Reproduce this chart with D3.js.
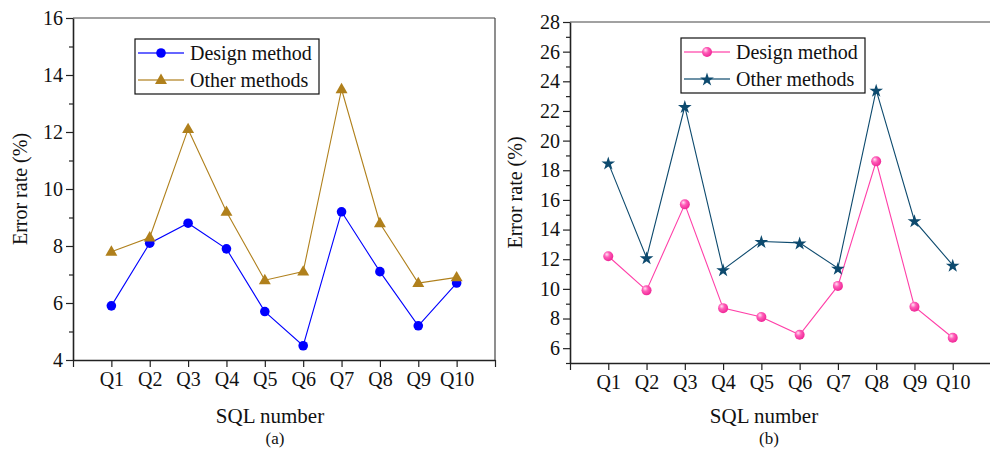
<!DOCTYPE html>
<html>
<head>
<meta charset="utf-8">
<script src="https://cdn.jsdelivr.net/npm/d3@7"></script>
<style>
  body { margin: 0; background: #fff; }
  svg { display: block; }
</style>
</head>
<body>
<div id="chart"></div>
<script>
// SQL query labels (x positions 1..10, axis runs 0..11)
const queries = ["Q1", "Q2", "Q3", "Q4", "Q5", "Q6", "Q7", "Q8", "Q9", "Q10"];

// panel (a)
const designA = [5.9, 8.1, 8.8, 7.9, 5.7, 4.5, 9.2, 7.1, 5.2, 6.7];
const otherA  = [7.8, 8.3, 12.1, 9.2, 6.8, 7.1, 13.5, 8.8, 6.7, 6.9];
const yTicksA = [4, 6, 8, 10, 12, 14, 16];

// panel (b)
const designB = [12.2, 9.9, 15.7, 8.7, 8.1, 6.9, 10.2, 18.6, 8.8, 6.7];
const otherB  = [18.5, 12.1, 22.3, 11.3, 13.2, 13.1, 11.4, 23.4, 14.6, 11.6];
const yTicksB = [6, 8, 10, 12, 14, 16, 18, 20, 22, 24, 26, 28];

const seriesNames = ["Design method", "Other methods"];

const width = 990, height = 450;
const serif = "Liberation Serif";

const svg = d3.select("#chart").append("svg")
    .attr("width", width)
    .attr("height", height);

function textStyle(selection, size) {
    selection
        .style("font-family", serif)
        .style("font-size", size + "px")
        .style("fill", "#111");
}

// sphere gradient for pink markers
const defs = svg.append("defs");
const grad = defs.append("radialGradient")
    .attr("id", "pinkBall")
    .attr("cx", "40%").attr("cy", "38%").attr("r", "60%")
    .attr("fx", "35%").attr("fy", "30%");
grad.append("stop").attr("offset", "0%").attr("stop-color", "#ffe6f4");
grad.append("stop").attr("offset", "45%").attr("stop-color", "#ff5cb8");
grad.append("stop").attr("offset", "100%").attr("stop-color", "#f02a98");

function markerShape(g, kind, color) {
    if (kind === "circle") {
        g.append("circle").attr("r", 4.8).attr("fill", color);
    } else if (kind === "ball") {
        g.append("circle").attr("r", 5).attr("fill", "url(#pinkBall)");
    } else if (kind === "triangle") {
        g.append("path")
            .attr("d", d3.symbol(d3.symbolTriangle, 62)())
            .attr("transform", "translate(0,0.5)")
            .attr("fill", color);
    } else if (kind === "star") {
        g.append("path")
            .attr("d", d3.symbol(d3.symbolStar, 58)())
            .attr("transform", "translate(0,0.8)")
            .attr("fill", color);
    }
}

function drawPanel(cfg) {
    const g = svg.append("g");

    const x = d3.scaleLinear().domain([0, 11]).range([cfg.left, cfg.right]);
    const y = d3.scaleLinear().domain(cfg.yDomain).range([cfg.bottom, cfg.top]);

    // top and right frame
    g.append("line")
        .attr("x1", cfg.left).attr("x2", cfg.right)
        .attr("y1", cfg.top).attr("y2", cfg.top)
        .attr("stroke", "#444").attr("stroke-width", 1.2);
    g.append("line")
        .attr("x1", cfg.right).attr("x2", cfg.right)
        .attr("y1", cfg.top).attr("y2", cfg.bottom)
        .attr("stroke", "#444").attr("stroke-width", 1.2);

    // minor y ticks
    const minor = d3.range(Math.ceil(cfg.yDomain[0]), cfg.yDomain[1] + 1)
        .filter(v => !cfg.yTicks.includes(v));
    g.append("g")
        .attr("transform", `translate(${cfg.left},0)`)
        .call(d3.axisLeft(y).tickValues(minor).tickSize(4).tickFormat(""))
        .call(a => a.select(".domain").remove())
        .call(a => a.selectAll("line").attr("stroke", "#222").attr("stroke-width", 1.2));

    // y axis
    g.append("g")
        .attr("transform", `translate(${cfg.left},0)`)
        .call(d3.axisLeft(y).tickValues(cfg.yTicks).tickSize(7).tickPadding(3).tickSizeOuter(0))
        .call(a => a.select(".domain").attr("stroke", "#222").attr("stroke-width", 1.6))
        .call(a => a.selectAll("line").attr("stroke", "#222").attr("stroke-width", 1.2))
        .call(a => a.selectAll("text").call(textStyle, 20));

    // x axis
    g.append("g")
        .attr("transform", `translate(0,${cfg.bottom})`)
        .call(d3.axisBottom(x).tickValues(d3.range(0, 12)).tickSize(7).tickPadding(5).tickSizeOuter(0)
            .tickFormat(d => (d >= 1 && d <= 10) ? queries[d - 1] : ""))
        .call(a => a.select(".domain").attr("stroke", "#222").attr("stroke-width", 1.6))
        .call(a => a.selectAll("line").attr("stroke", "#222").attr("stroke-width", 1.2))
        .call(a => a.selectAll("text").call(textStyle, 20));

    // axis titles
    g.append("text")
        .attr("transform", `translate(${cfg.yLabelX},${(cfg.top + cfg.bottom) / 2}) rotate(-90)`)
        .attr("text-anchor", "middle")
        .call(textStyle, 20)
        .text("Error rate (%)");

    g.append("text")
        .attr("x", cfg.xLabelX).attr("y", 423)
        .attr("text-anchor", "middle")
        .call(textStyle, 21)
        .text("SQL number");

    g.append("text")
        .attr("x", cfg.xLabelX + 5).attr("y", 444)
        .attr("text-anchor", "middle")
        .call(textStyle, 17)
        .text(cfg.caption);

    // series
    const line = d3.line().x((d, i) => x(i + 1)).y(d => y(d));
    cfg.series.forEach(s => {
        g.append("path")
            .datum(s.values)
            .attr("fill", "none")
            .attr("stroke", s.color)
            .attr("stroke-width", 1.1)
            .attr("d", line);
        g.selectAll(null)
            .data(s.values)
            .enter()
            .append("g")
            .attr("transform", (d, i) => `translate(${x(i + 1)},${y(d)})`)
            .each(function() { markerShape(d3.select(this), s.marker, s.color); });
    });

    // legend
    const lg = g.append("g").attr("transform", `translate(${cfg.legend.x},${cfg.legend.y})`);
    lg.append("rect")
        .attr("width", 184).attr("height", 55)
        .attr("fill", "#fff").attr("stroke", "#111").attr("stroke-width", 1.2);
    cfg.series.forEach((s, i) => {
        const row = lg.append("g").attr("transform", `translate(0,${14 + i * 27})`);
        row.append("line")
            .attr("x1", 3).attr("x2", 49)
            .attr("stroke", s.color).attr("stroke-width", 1.3).attr("opacity", 0.8);
        const m = row.append("g").attr("transform", "translate(26,0)");
        markerShape(m, s.marker, s.color);
        row.append("text")
            .attr("x", 55).attr("y", 7)
            .call(textStyle, 20)
            .text(seriesNames[i]);
    });
}

drawPanel({
    left: 73, right: 495, top: 18, bottom: 360,
    yDomain: [4, 16], yTicks: yTicksA,
    yLabelX: 27, xLabelX: 270, caption: "(a)",
    legend: { x: 135, y: 39 },
    series: [
        { values: designA, color: "#0000ff", marker: "circle" },
        { values: otherA, color: "#b0801c", marker: "triangle" }
    ]
});

drawPanel({
    left: 570, right: 991, top: 22, bottom: 363,
    yDomain: [5, 28], yTicks: yTicksB,
    yLabelX: 522, xLabelX: 764, caption: "(b)",
    legend: { x: 681, y: 38 },
    series: [
        { values: designB, color: "#ff3fa8", marker: "ball" },
        { values: otherB, color: "#0d4a6e", marker: "star" }
    ]
});
</script>
</body>
</html>
